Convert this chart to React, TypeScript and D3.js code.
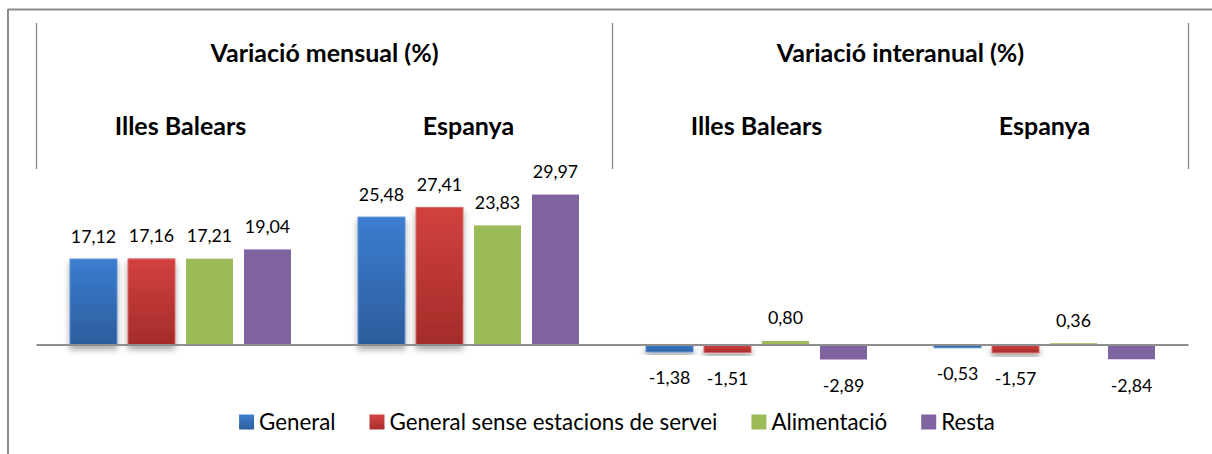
import React, { useEffect, useRef } from "react";
import * as d3 from "d3";

const categories = ["Illes Balears", "Espanya", "Illes Balears", "Espanya"];
const sectionTitles = ["Variació mensual (%)", "Variació interanual (%)"];
const seriesNames = ["General", "General sense estacions de servei", "Alimentació", "Resta"];
const general = [17.12, 25.48, -1.38, -0.53];
const generalSense = [17.16, 27.41, -1.51, -1.57];
const alimentacio = [17.21, 23.83, 0.8, 0.36];
const resta = [19.04, 29.97, -2.89, -2.84];

const W = 1212;
const H = 454;
const FONT = "Lato, 'Open Sans', sans-serif";

export default function App() {
  const ref = useRef<SVGSVGElement | null>(null);

  useEffect(() => {
    const svg = d3.select(ref.current);
    svg.selectAll("*").remove();

    const seriesValues = [general, generalSense, alimentacio, resta];
    const fills = ["url(#gBlue)", "url(#gRed)", "#9bbb59", "#8064a2"];
    const legendFills = ["url(#gBlueL)", "url(#gRedL)", "#9bbb59", "#8064a2"];
    const strokes = ["#5a8fd4", "#d86a68", "none", "none"];
    const shadowed = [true, true, false, false];

    const defs = svg.append("defs");
    const grad = (id: string, top: string, bottom: string) => {
      const g = defs.append("linearGradient").attr("id", id).attr("x1", 0).attr("y1", 0).attr("x2", 0).attr("y2", 1);
      g.append("stop").attr("offset", "0%").attr("stop-color", top);
      g.append("stop").attr("offset", "100%").attr("stop-color", bottom);
    };
    grad("gBlue", "#3b7dd0", "#2c5c9b");
    grad("gRed", "#d2413f", "#a32c2a");
    grad("gBlueL", "#3f80cf", "#2e5e9d");
    grad("gRedL", "#d44442", "#a82e2c");
    const f = defs.append("filter").attr("id", "shadow").attr("x", "-20%").attr("y", "-20%").attr("width", "140%").attr("height", "160%");
    f.append("feDropShadow").attr("dx", 0).attr("dy", 4).attr("stdDeviation", 3).attr("flood-color", "#000").attr("flood-opacity", 0.35);

    // frame
    svg.append("line").attr("x1", 8).attr("x2", W).attr("y1", 9.5).attr("y2", 9.5).attr("stroke", "#8c8c8c").attr("stroke-width", 2);
    svg.append("line").attr("x1", 8).attr("x2", 8).attr("y1", 9).attr("y2", H).attr("stroke", "#8c8c8c").attr("stroke-width", 2);

    const x0 = d3.scaleBand<number>().domain(d3.range(categories.length)).range([36.5, 1188.5]).padding(0);
    const x1 = d3.scaleBand<number>().domain(d3.range(seriesNames.length)).range([33.5, 254.5]).paddingInner(0.19).paddingOuter(0);
    const y = d3.scaleLinear().domain([0, 30]).range([345, 194.4]);

    // dividers
    const dividerX = [x0(0)!, x0(2)!, x0(3)! + x0.bandwidth()];
    svg.selectAll(".div").data(dividerX).enter().append("line")
      .attr("x1", (d) => d).attr("x2", (d) => d).attr("y1", 23).attr("y2", 169)
      .attr("stroke", "#8c8c8c").attr("stroke-width", 1.3);

    // section titles
    sectionTitles.forEach((t, i) => {
      const cx = (x0(i * 2)! + x0(i * 2 + 1)! + x0.bandwidth()) / 2;
      svg.append("text").attr("x", cx).attr("y", 62).attr("text-anchor", "middle")
        .attr("font-family", FONT).attr("font-weight", 700).attr("font-size", 25).attr("fill", "#000").text(t);
    });
    categories.forEach((c, i) => {
      svg.append("text").attr("x", x0(i)! + x0.bandwidth() / 2).attr("y", 135).attr("text-anchor", "middle")
        .attr("font-family", FONT).attr("font-weight", 700).attr("font-size", 25).attr("fill", "#000").text(c);
    });

    const fmt = (v: number) => v.toFixed(2).replace(".", ",");

    seriesValues.forEach((vals, s) => {
      const g = svg.append("g");
      g.selectAll("rect").data(vals).enter().append("rect")
        .attr("x", (_, i) => x0(i)! + x1(s)!)
        .attr("width", x1.bandwidth())
        .attr("y", (d) => Math.min(y(d), y(0)))
        .attr("height", (d) => Math.abs(y(d) - y(0)))
        .attr("fill", fills[s])
        .attr("stroke", strokes[s])
        .attr("stroke-width", strokes[s] === "none" ? 0 : 1)
        .attr("filter", shadowed[s] ? "url(#shadow)" : null);
    });

    // zero line
    svg.append("line").attr("x1", 36.5).attr("x2", 1188.5).attr("y1", y(0)).attr("y2", y(0))
      .attr("stroke", "#8e8e8e").attr("stroke-width", 1.8);

    seriesValues.forEach((vals, s) => {
      svg.append("g").selectAll("text").data(vals).enter().append("text")
        .attr("x", (_, i) => x0(i)! + x1(s)! + x1.bandwidth() / 2)
        .attr("y", (d) => (d >= 0 ? y(d) - 16.5 : y(d) + 32.5))
        .attr("text-anchor", "middle")
        .attr("font-family", FONT).attr("font-size", 17.8).attr("fill", "#000")
        .text((d) => fmt(d));
    });

    // legend
    const lg = svg.append("g");
    const items = seriesNames.map((n, i) => {
      const it = lg.append("g");
      it.append("rect").attr("x", 0).attr("y", -7.5).attr("width", 15).attr("height", 15).attr("fill", legendFills[i]);
      const t = it.append("text").attr("x", 20).attr("y", 7.5).attr("font-family", FONT).attr("font-size", 22.3).attr("fill", "#000").text(n);
      const w = (t.node() as SVGTextElement).getComputedTextLength();
      return { it, w: 20 + w };
    });
    const gap = 34;
    const total = d3.sum(items, (d) => d.w) + gap * (items.length - 1);
    let cx = 617 - total / 2;
    items.forEach((d) => {
      d.it.attr("transform", `translate(${cx},${422})`);
      cx += d.w + gap;
    });
  }, []);

  return (
    <svg ref={ref} width={W} height={H} style={{ position: "absolute", left: 0, top: 0, background: "#fff" }} />
  );
}
